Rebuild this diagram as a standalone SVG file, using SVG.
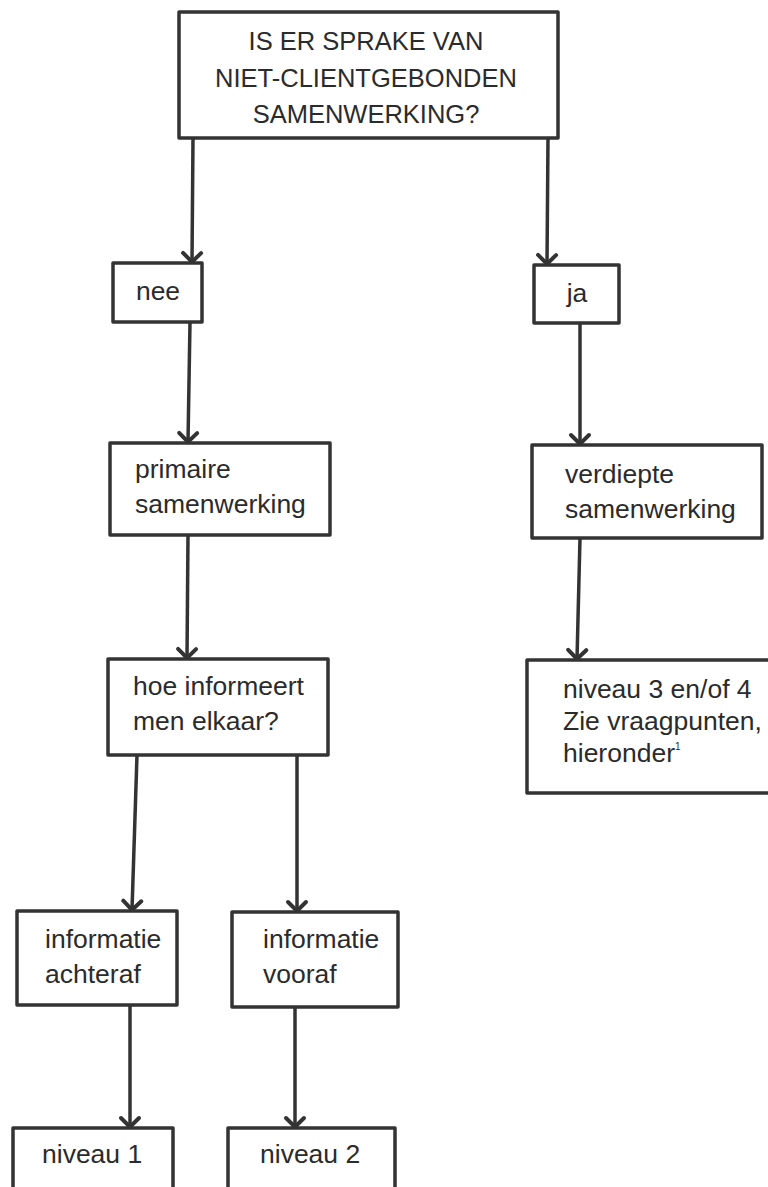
<svg xmlns="http://www.w3.org/2000/svg" width="768" height="1187" viewBox="0 0 768 1187">
<style>
.box{fill:#fff;stroke:#333;stroke-width:3.5;stroke-linejoin:round}
.con{fill:none;stroke:#333;stroke-width:3.5}
text{font-family:"Liberation Sans",Arial,sans-serif;fill:#2b2b2b}
.t{font-size:25.5px;text-anchor:middle}
.l{font-size:26.5px}
</style>
<defs>
<marker id="ah" markerUnits="userSpaceOnUse" markerWidth="24" markerHeight="24" viewBox="-12 -12 24 24" refX="0" refY="0" orient="auto">
<path d="M-9,-9 L0,0 L-9,9" fill="none" stroke="#333" stroke-width="4" stroke-linecap="round"/>
</marker>
</defs>
<rect width="768" height="1187" fill="#fff"/>
<g id="connectors">
<path class="con" d="M193,138 L192,262" marker-end="url(#ah)"/>
<path class="con" d="M548,138 L547,264" marker-end="url(#ah)"/>
<path class="con" d="M190,322 L188,442" marker-end="url(#ah)"/>
<path class="con" d="M580,323 L580,444" marker-end="url(#ah)"/>
<path class="con" d="M188,535 L187,658" marker-end="url(#ah)"/>
<path class="con" d="M580,538 L577,659" marker-end="url(#ah)"/>
<path class="con" d="M137,755 L132,910" marker-end="url(#ah)"/>
<path class="con" d="M297,755 L297,911" marker-end="url(#ah)"/>
<path class="con" d="M130,1005 L130,1127" marker-end="url(#ah)"/>
<path class="con" d="M295,1007 L295,1127" marker-end="url(#ah)"/>
</g>
<g id="question">
<rect class="box" x="179" y="12" width="379" height="126"/>
<text class="t" x="366" y="50">IS ER SPRAKE VAN</text>
<text class="t" x="366" y="87">NIET-CLIENTGEBONDEN</text>
<text class="t" x="366" y="123">SAMENWERKING?</text>
</g>
<g id="nee">
<rect class="box" x="113" y="263" width="89" height="59"/>
<text class="l" x="158" y="300" text-anchor="middle">nee</text>
</g>
<g id="ja">
<rect class="box" x="534" y="265" width="85" height="58"/>
<text class="l" x="577" y="302" text-anchor="middle">ja</text>
</g>
<g id="primaire">
<rect class="box" x="110" y="443" width="220" height="92"/>
<text class="l" x="135" y="478">primaire</text>
<text class="l" x="135" y="513">samenwerking</text>
</g>
<g id="verdiepte">
<rect class="box" x="532" y="445" width="230" height="93"/>
<text class="l" x="565" y="483">verdiepte</text>
<text class="l" x="565" y="518">samenwerking</text>
</g>
<g id="hoe">
<rect class="box" x="108" y="659" width="220" height="96"/>
<text class="l" x="133" y="695">hoe informeert</text>
<text class="l" x="133" y="730">men elkaar?</text>
</g>
<g id="niveau34">
<path class="box" d="M770,660 H527 V793 H770"/>
<text class="l" x="563" y="698">niveau 3 en/of 4</text>
<text class="l" x="563" y="730">Zie vraagpunten,</text>
<text class="l" x="563" y="762">hieronder<tspan font-size="10" dy="-12">1</tspan></text>
</g>
<g id="achteraf">
<rect class="box" x="17" y="911" width="160" height="94"/>
<text class="l" x="45" y="948">informatie</text>
<text class="l" x="45" y="983">achteraf</text>
</g>
<g id="vooraf">
<rect class="box" x="232" y="912" width="166" height="95"/>
<text class="l" x="263" y="948">informatie</text>
<text class="l" x="263" y="983">vooraf</text>
</g>
<g id="niveau1">
<path class="box" d="M13,1190 V1128 H173 V1190"/>
<text class="l" x="42" y="1163">niveau 1</text>
</g>
<g id="niveau2">
<path class="box" d="M228,1190 V1128 H395 V1190"/>
<text class="l" x="260" y="1163">niveau 2</text>
</g>
</svg>
